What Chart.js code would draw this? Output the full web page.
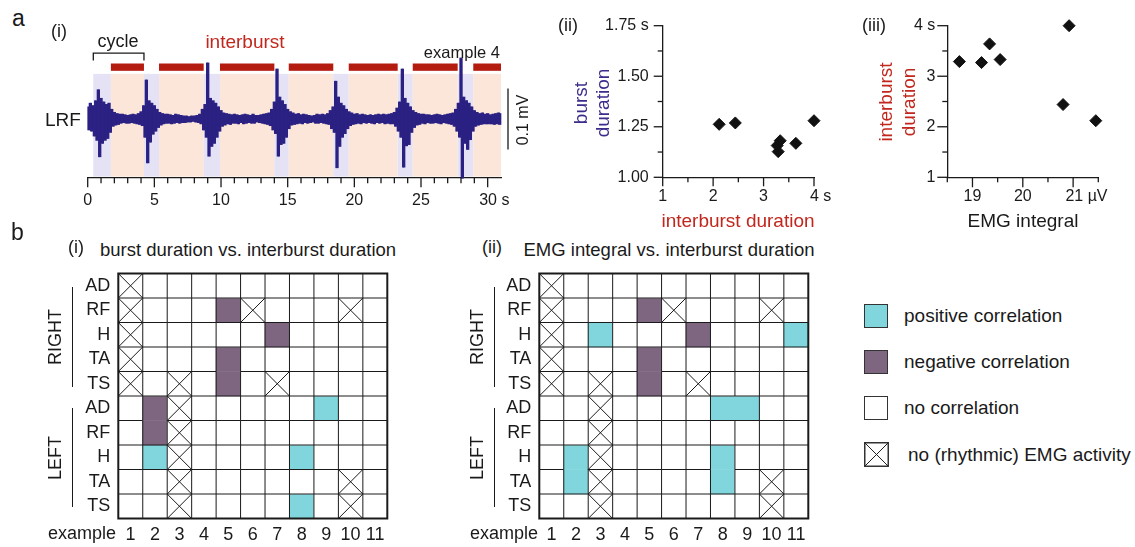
<!DOCTYPE html>
<html>
<head>
<meta charset="utf-8">
<script src="https://cdn.jsdelivr.net/npm/chart.js@4.4.1/dist/chart.umd.min.js"></script>
<style>
body { margin: 0; background: #fff; font-family: 'Liberation Sans', Arial, sans-serif; color: #1a1a1a; }
#fig { position: relative; width: 1135px; height: 547px; overflow: hidden; }
canvas { position: absolute; }
.t { position: absolute; white-space: nowrap; line-height: 1; }
.c { transform: translate(-50%, -50%); }
.v { transform: translate(-50%, -50%) rotate(-90deg); text-align: center; }
.r { transform: translate(-100%, -50%); }
.vl { position: absolute; width: 0; border-left: 1.3px solid #1a1a1a; }
.lg { position: absolute; left: 864px; display: flex; align-items: center; font-size: 19px; }
.lg i { display: block; width: 22px; height: 22px; border: 1.5px solid #333; margin-right: 16px; }
</style>
</head>
<body>
<div id="fig">
  <canvas id="trace" width="520" height="180" style="left:0;top:40px"></canvas>
  <canvas id="burstPlot" width="290" height="220" style="left:560px;top:10px"></canvas>
  <canvas id="emgPlot" width="285" height="220" style="left:850px;top:10px"></canvas>
  <canvas id="gridA" width="400" height="287" style="left:0;top:260px"></canvas>
  <canvas id="gridB" width="400" height="287" style="left:420px;top:260px"></canvas>

  <div class="t" style="left:12px;top:7px;font-size:23px">a</div>
  <div class="t" style="left:51px;top:22px;font-size:18px">(i)</div>
  <div class="t c" style="left:118px;top:41px;font-size:18px">cycle</div>
  <div class="t c" style="left:245px;top:41px;font-size:19px;color:#c1271d">interburst</div>
  <div class="t r" style="left:500px;top:52px;font-size:16.5px">example 4</div>
  <div class="t" style="left:45px;top:110px;font-size:19px">LRF</div>
  <div class="t v" style="left:523px;top:120px;font-size:16px">0.1 mV</div>

  <div class="t" style="left:558px;top:16px;font-size:18px">(ii)</div>
  <div class="t v" style="left:592px;top:103px;font-size:19px;line-height:21.6px;color:#3a2d8c">burst<br>duration</div>
  <div class="t c" style="left:738px;top:220px;font-size:19px;color:#c1271d">interburst duration</div>

  <div class="t" style="left:862px;top:16px;font-size:18px">(iii)</div>
  <div class="t v" style="left:898px;top:102px;font-size:19px;line-height:22.6px;color:#c1271d">interburst<br>duration</div>
  <div class="t c" style="left:1023px;top:220px;font-size:19px">EMG integral</div>

  <div class="t" style="left:11px;top:221px;font-size:23px">b</div>
  <div class="t" style="left:68px;top:238px;font-size:18px">(i)</div>
  <div class="t c" style="left:248px;top:250px;font-size:18.5px">burst duration vs. interburst duration</div>
  <div class="t v" style="left:55px;top:337px;font-size:18px">RIGHT</div>
  <div class="t v" style="left:55px;top:458px;font-size:18px">LEFT</div>
  <div class="vl" style="left:72px;top:287px;height:100px"></div>
  <div class="vl" style="left:72px;top:408px;height:99px"></div>
  <div class="t r" style="left:116px;top:533px;font-size:18px">example</div>

  <div class="t" style="left:482px;top:238px;font-size:18px">(ii)</div>
  <div class="t c" style="left:669px;top:250px;font-size:18.5px">EMG integral vs. interburst duration</div>
  <div class="t v" style="left:477px;top:337px;font-size:18px">RIGHT</div>
  <div class="t v" style="left:477px;top:458px;font-size:18px">LEFT</div>
  <div class="vl" style="left:494px;top:287px;height:100px"></div>
  <div class="vl" style="left:494px;top:408px;height:99px"></div>
  <div class="t r" style="left:538px;top:533px;font-size:18px">example</div>

  <div class="lg" style="top:304px"><i style="background:#80d6dc"></i>positive correlation</div>
  <div class="lg" style="top:350px"><i style="background:#7e6681"></i>negative correlation</div>
  <div class="lg" style="top:396px"><i style="background:#fff"></i>no correlation</div>
  <div class="lg" style="top:442px"><svg width="25" height="25" style="margin-right:19px"><rect x="0.75" y="0.75" width="23.5" height="23.5" fill="none" stroke="#333" stroke-width="1.5"/><path d="M1 1L24 24M24 1L1 24" stroke="#222" stroke-width="1"/></svg>no (rhythmic) EMG activity</div>
</div>

<script>
// LRF EMG trace, uV, one value every 0.1 s
var emgLRF = [
  20,-18,26,-20,22,-28,30,-35,48,-62,
  34,-40,28,-35,24,-32,26,-22,16,-12,
  11,-10,9,-9,8,-7,8,-6,7,-7,
  6,-7,7,-6,8,-7,7,-8,9,-9,
  12,-11,22,-30,64,-72,30,-38,26,-25,
  22,-20,16,-14,11,-10,9,-8,8,-7,
  8,-7,7,-8,6,-7,8,-6,7,-7,
  6,-6,5,-6,5,-5,4,-5,5,-4,
  5,-5,6,-6,8,-8,16,-18,24,-30,
  92,-61,34,-45,30,-40,26,-30,20,-20,
  14,-12,10,-10,9,-8,8,-9,7,-7,
  8,-7,7,-8,6,-6,7,-8,8,-7,
  7,-6,6,-7,8,-7,6,-5,6,-6,
  7,-7,8,-8,9,-9,10,-11,16,-18,
  28,-24,82,-61,36,-42,30,-40,24,-30,
  16,-16,12,-10,10,-9,8,-8,9,-7,
  7,-8,8,-6,7,-7,6,-6,5,-5,
  6,-7,8,-7,7,-6,8,-7,7,-8,
  9,-9,14,-16,20,-22,62,-80,36,-45,
  26,-30,22,-24,16,-16,12,-11,10,-9,
  8,-8,9,-7,7,-8,8,-6,7,-7,
  6,-6,7,-7,6,-8,7,-6,8,-7,
  7,-6,8,-8,7,-7,8,-8,9,-8,
  11,-12,18,-20,28,-30,82,-79,34,-44,
  26,-42,20,-22,14,-14,11,-10,9,-9,
  8,-7,8,-8,7,-6,7,-7,6,-7,
  7,-6,8,-7,7,-8,6,-6,7,-7,
  8,-8,9,-9,10,-12,16,-20,26,-30,
  100,-97,36,-40,30,-50,26,-34,20,-20,
  14,-12,11,-10,9,-9,10,-8,8,-8,
  9,-8,7,-8,8,-9,9,-8,10,-9,
  9
];
var sampleStep = 0.1;
var burstOn  = [0.42, 4.22, 8.70, 14.00, 18.42, 23.25, 27.75];
var burstOff = [1.74, 5.35, 9.92, 15.08, 19.58, 24.38, 28.92];
var recordEnd = 31;

// one point per cycle
var interburstDur = [3.29, 3.27, 3.64, 3.33, 2.44, 4.00, 2.12];
var burstDur      = [1.127, 1.157, 1.168, 1.181, 1.269, 1.280, 1.262];
var emgIntegral   = [18.74, 19.18, 19.34, 19.55, 20.80, 20.92, 21.45];

// correlation tables: '+' positive, '-' negative, '.' none, 'x' no rhythmic activity
var examples = ['1', '2', '3', '4', '5', '6', '7', '8', '9', '10', '11'];
var muscles = ['AD', 'RF', 'H', 'TA', 'TS', 'AD', 'RF', 'H', 'TA', 'TS'];
var corrBurstInter = [
  'x..........',
  'x...-x...x.',
  'x.....-....',
  'x...-......',
  'x.x.-.x....',
  '.-x.....+..',
  '.-x........',
  '.+x....+...',
  '..x......x.',
  '..x....+.x.'
];
var corrEmgInter = [
  'x..........',
  'x...-x...x.',
  'x.+...-...+',
  'x...-......',
  'x.x.-.x....',
  '..x....++..',
  '..x........',
  '.+x....+...',
  '.+x....+.x.',
  '..x......x.'
];

var ink = '#1a1a1a';
var cellFill = {'.': '#ffffff', 'x': '#ffffff', '+': '#80d6dc', '-': '#7e6681'};

Chart.defaults.font.family = "'Liberation Sans', Arial, sans-serif";
Chart.defaults.color = ink;
Chart.defaults.animation = false;
Chart.defaults.plugins.legend.display = false;
Chart.defaults.plugins.tooltip.enabled = false;

function steps(a, b, d) {
  var out = [];
  for (var v = a; v <= b + 1e-9; v += d) out.push({value: Math.round(v * 1000) / 1000});
  return out;
}
function onStep(v, d) {
  var q = v / d;
  return Math.abs(q - Math.round(q)) < 1e-6;
}
// keep edge labels from pushing the plot area around
function noEdgePad(s) {
  s.paddingTop = 0; s.paddingBottom = 0; s.paddingLeft = 0; s.paddingRight = 0;
}
var noGrid = {display: false, drawTicks: false};

// long ticks on the labelled values, short ticks between
function tickMarks(cfg) {
  return {
    id: 'tickMarks',
    afterDraw: function(chart) {
      var ctx = chart.ctx;
      ctx.save();
      ctx.strokeStyle = ink;
      ctx.lineWidth = 1.3;
      Object.keys(cfg).forEach(function(id) {
        var s = chart.scales[id], o = cfg[id];
        s.ticks.forEach(function(t) {
          var len = onStep(t.value, o.major) ? o.long : o.short;
          var p = s.getPixelForValue(t.value);
          ctx.beginPath();
          if (s.isHorizontal()) { ctx.moveTo(p, s.top); ctx.lineTo(p, s.top + len); }
          else { ctx.moveTo(s.right, p); ctx.lineTo(s.right - len, p); }
          ctx.stroke();
        });
      });
      ctx.restore();
    }
  };
}

// burst / interburst shading, red interburst bars, cycle bracket, scale bar
var traceDecor = {
  id: 'traceDecor',
  beforeDatasetsDraw: function(chart) {
    var ctx = chart.ctx, a = chart.chartArea, x = chart.scales.x, y = chart.scales.y;
    var top = y.getPixelForValue(74), bottom = a.bottom - 0.7;
    ctx.save();
    burstOn.forEach(function(t0, i) {
      var b0 = x.getPixelForValue(t0), b1 = x.getPixelForValue(burstOff[i]);
      var e1 = x.getPixelForValue(i + 1 < burstOn.length ? burstOn[i + 1] : recordEnd);
      ctx.fillStyle = '#e4e2f4';
      ctx.fillRect(b0, top, b1 - b0, bottom - top);
      ctx.fillStyle = '#fce6da';
      ctx.fillRect(b1, top, e1 - b1, bottom - top);
      ctx.fillStyle = '#b51c10';
      var r0 = y.getPixelForValue(91), r1 = y.getPixelForValue(79);
      ctx.fillRect(b1, r0, e1 - b1, r1 - r0);
    });
    var c0 = x.getPixelForValue(burstOn[0]), c1 = x.getPixelForValue(burstOn[1]);
    var yt = y.getPixelForValue(108), yb = y.getPixelForValue(96);
    ctx.strokeStyle = ink;
    ctx.lineWidth = 1.3;
    ctx.beginPath();
    ctx.moveTo(c0, yb); ctx.lineTo(c0, yt); ctx.lineTo(c1, yt); ctx.lineTo(c1, yb);
    var sx = a.right + 7;
    ctx.moveTo(sx, y.getPixelForValue(50)); ctx.lineTo(sx, y.getPixelForValue(-50));
    ctx.stroke();
    ctx.restore();
  }
};

// each bar spans two neighbouring samples, so the bars together fill the trace
var traceBars = emgLRF.slice(0, -1).map(function(v, i) {
  var w = emgLRF[i + 1];
  return {x: (i + 0.5) * sampleStep, y: [Math.min(v, w), Math.max(v, w)]};
});

new Chart(document.getElementById('trace'), {
  type: 'bar',
  data: {
    datasets: [{
      data: traceBars,
      backgroundColor: '#2b2183',
      borderWidth: 0,
      barPercentage: 1,
      categoryPercentage: 1,
      clip: false
    }]
  },
  options: {
    responsive: false,
    layout: {padding: {left: 87.7, right: 19, top: 16, bottom: 0}},
    scales: {
      x: {
        type: 'linear', min: 0, max: recordEnd, offset: false,
        grid: noGrid,
        border: {color: ink, width: 1.3},
        afterBuildTicks: function(s) { s.ticks = steps(0, 30, 1); },
        afterFit: function(s) { s.height = 42.7; noEdgePad(s); },
        ticks: {
          autoSkip: false, maxRotation: 0, padding: 14, font: {size: 16},
          callback: function(v) { return onStep(v, 5) ? (v === 30 ? '   30 s' : String(v)) : ''; }
        }
      },
      y: {display: false, min: -95.6, max: 103.3}
    }
  },
  plugins: [traceDecor, tickMarks({x: {major: 5, long: 10, short: 6}})]
});

function scatterPlot(id, xs, ys, xr, yr, xLabel, yLabel, yStep, pad, yPad, ticksCfg) {
  return new Chart(document.getElementById(id), {
    type: 'scatter',
    data: {
      datasets: [{
        data: xs.map(function(v, i) { return {x: v, y: ys[i]}; }),
        pointStyle: 'rectRot', pointRadius: 6,
        backgroundColor: '#111', borderColor: '#111', borderWidth: 1,
        clip: false
      }]
    },
    options: {
      responsive: false,
      layout: {padding: {left: 0, right: pad.right, top: 15.7, bottom: 0}},
      scales: {
        x: {
          min: xr[0], max: xr[1],
          grid: noGrid,
          border: {color: ink, width: 1.3},
          afterBuildTicks: function(s) { s.ticks = steps(xr[0], xr[1], 0.5); },
          afterFit: function(s) { s.height = 52.7; noEdgePad(s); },
          ticks: {autoSkip: false, maxRotation: 0, padding: 10, font: {size: 16}, callback: xLabel}
        },
        y: {
          min: yr[0], max: yr[1],
          grid: noGrid,
          border: {color: ink, width: 1.3},
          afterBuildTicks: function(s) { s.ticks = steps(yr[0], yr[1], yStep); },
          afterFit: function(s) { s.width = pad.left; noEdgePad(s); },
          ticks: {autoSkip: false, padding: yPad, font: {size: 16}, callback: yLabel}
        }
      }
    },
    plugins: [tickMarks(ticksCfg)]
  });
}

scatterPlot('burstPlot', interburstDur, burstDur, [1, 4], [1, 1.75],
  function(v) { return onStep(v, 1) ? (v === 4 ? '   4 s' : String(v)) : ''; },
  function(v) { return onStep(v, 0.25) ? (v === 1.75 ? '1.75 s' : v.toFixed(2)) : ''; },
  0.125, {left: 102.7, right: 36}, 14,
  {x: {major: 1, long: 9, short: 5}, y: {major: 0.25, long: 9, short: 5}});

scatterPlot('emgPlot', emgIntegral, interburstDur, [18.5, 21.5], [1, 4],
  function(v) { return onStep(v, 1) ? (v === 21 ? '      21 µV' : String(v)) : ''; },
  function(v) { return onStep(v, 1) ? (v === 4 ? '4 s' : String(v)) : ''; },
  0.5, {left: 97.3, right: 36.7}, 12,
  {x: {major: 1, long: 10, short: 5}, y: {major: 1, long: 10, short: 5}});

function corrGrid(id, states, padLeft, padRight) {
  var cellLines = {
    id: 'cellLines',
    afterDatasetsDraw: function(chart) {
      var ctx = chart.ctx, a = chart.chartArea;
      function box(r, c) {
        var p = chart.getDatasetMeta(r).data[c].getProps(['x', 'y', 'base', 'width'], true);
        return {l: p.x - p.width / 2, r: p.x + p.width / 2, t: Math.min(p.y, p.base), b: Math.max(p.y, p.base)};
      }
      function joined(s, u) { return s === u && (s === '+' || s === '-'); }
      function seg(x0, y0, x1, y1) { ctx.moveTo(x0, y0); ctx.lineTo(x1, y1); }
      ctx.save();
      ctx.strokeStyle = ink;
      ctx.lineWidth = 1;
      ctx.beginPath();
      states.forEach(function(row, r) {
        row.split('').forEach(function(s, c) {
          var k = box(r, c);
          if (c < row.length - 1 && !joined(s, row[c + 1])) seg(k.r, k.t, k.r, k.b);
          if (r < states.length - 1 && !joined(s, states[r + 1][c])) seg(k.l, k.b, k.r, k.b);
          if (s === 'x') { seg(k.l, k.t, k.r, k.b); seg(k.r, k.t, k.l, k.b); }
        });
      });
      ctx.stroke();
      ctx.lineWidth = 2;
      ctx.strokeRect(a.left, a.top, a.right - a.left, a.bottom - a.top);
      ctx.restore();
    }
  };
  return new Chart(document.getElementById(id), {
    type: 'bar',
    data: {
      labels: examples,
      datasets: states.map(function(row, r) {
        return {
          data: row.split('').map(function() { return [r - 0.5, r + 0.5]; }),
          backgroundColor: row.split('').map(function(s) { return cellFill[s]; }),
          borderWidth: 0, grouped: false, barPercentage: 1, categoryPercentage: 1
        };
      })
    },
    options: {
      responsive: false,
      layout: {padding: {left: 0, right: padRight, top: 13.5, bottom: 0}},
      scales: {
        x: {
          grid: noGrid, border: {display: false},
          afterFit: function(s) { s.height = 28.5; noEdgePad(s); },
          ticks: {autoSkip: false, maxRotation: 0, padding: 6, font: {size: 18}}
        },
        y: {
          reverse: true, min: -0.5, max: muscles.length - 0.5,
          grid: noGrid, border: {display: false},
          afterBuildTicks: function(s) { s.ticks = muscles.map(function(m, i) { return {value: i}; }); },
          afterFit: function(s) { s.width = padLeft; noEdgePad(s); },
          ticks: {autoSkip: false, padding: 8, font: {size: 18}, callback: function(v) { return muscles[v]; }}
        }
      }
    },
    plugins: [cellLines]
  });
}

corrGrid('gridA', corrBurstInter, 118.3, 12.7);
corrGrid('gridB', corrEmgInter, 119.3, 11.7);
</script>
</body>
</html>
